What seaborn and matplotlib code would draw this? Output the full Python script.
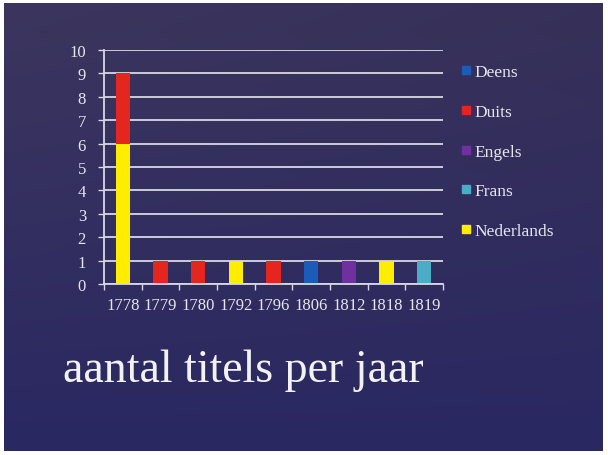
import numpy as np
import pandas as pd
import matplotlib
matplotlib.use("Agg")
import matplotlib.pyplot as plt
import seaborn as sns
from matplotlib.lines import Line2D

# ---- data ----
years = ["1778", "1779", "1780", "1792", "1796", "1806", "1812", "1818", "1819"]
nederlands = [6, 0, 0, 1, 0, 0, 0, 1, 0]
duits = [3, 1, 1, 0, 1, 0, 0, 0, 0]
deens = [0, 0, 0, 0, 0, 1, 0, 0, 0]
engels = [0, 0, 0, 0, 0, 0, 1, 0, 0]
frans = [0, 0, 0, 0, 0, 0, 0, 0, 1]
y_ticks = list(range(0, 11))
legend_labels = ["Deens", "Duits", "Engels", "Frans", "Nederlands"]
title_text = "aantal titels per jaar"

colors = {
    "Deens": "#1a5cb8",
    "Duits": "#e5261e",
    "Engels": "#7030a0",
    "Frans": "#4bacc6",
    "Nederlands": "#ffed00",
}

series = {"Nederlands": nederlands, "Duits": duits, "Deens": deens,
          "Engels": engels, "Frans": frans}

sns.set_theme(style="white")
plt.rcParams["font.family"] = ["Liberation Serif", "DejaVu Serif"]

W, H = 608, 456
fig = plt.figure(figsize=(W / 100, H / 100), dpi=100, facecolor="white")

# background panel with gradient
bg = fig.add_axes([4 / W, 4 / H, 599 / W, 448 / H])
ny, nx = 200, 300
yy, xx = np.mgrid[0:1:ny * 1j, 0:1:nx * 1j]
top = np.array([60, 54, 94]) / 255
bot = np.array([42, 40, 98]) / 255
t = yy[..., None]
img = top * (1 - t) + bot * t
img = img - 0.02 * xx[..., None] * (1 - t)
img = np.clip(img, 0, 1)
bg.imshow(img, aspect="auto", extent=[0, 1, 0, 1], origin="upper")
bg.set_axis_off()

ax = fig.add_axes([104 / W, 1 - 285 / H, (443 - 104) / W, (285 - 51) / H])
ax.set_facecolor("none")

txt_color = "#e6e6ee"
line_color = "#d8d8e4"

bottom = np.zeros(len(years))
for name in ["Nederlands", "Duits", "Deens", "Engels", "Frans"]:
    vals = np.array(series[name], dtype=float)
    df = pd.DataFrame({"year": years, "value": vals})
    sns.barplot(data=df, x="year", y="value", order=years, bottom=bottom,
                color=colors[name], saturation=1, width=0.38, linewidth=0,
                ax=ax, errorbar=None)
    bottom = bottom + vals

ax.set_ylim(0, 10)
ax.set_xlim(-0.5, len(years) - 0.5)
ax.set_yticks(y_ticks)
ax.yaxis.grid(True, color=line_color, linewidth=1.3)
ax.set_axisbelow(True)
ax.set_xlabel("")
ax.set_ylabel("")

for s in ["top", "right"]:
    ax.spines[s].set_visible(False)
for s in ["left", "bottom"]:
    ax.spines[s].set_color(line_color)
    ax.spines[s].set_linewidth(1.3)

ax.tick_params(axis="y", colors=line_color, labelcolor=txt_color, length=4,
               width=1.0, direction="out", pad=9, labelsize=12, left=True)
ax.tick_params(axis="x", which="major", length=0, pad=9, labelcolor=txt_color,
               labelsize=12)
ax.set_xticks(range(len(years)))
ax.set_xticklabels(years)
ax.set_xticks(np.arange(-0.5, len(years), 1.0), minor=True)
ax.tick_params(axis="x", which="minor", length=4, width=1.0, color=line_color,
               direction="out", bottom=True)

handles = [Line2D([0], [0], marker="s", linestyle="none", markersize=6,
                  markerfacecolor=colors[n], markeredgecolor=colors[n])
           for n in legend_labels]
leg = fig.legend(handles, legend_labels, loc="upper left",
                 bbox_to_anchor=(461 / W, 1 - 65 / H), frameon=False,
                 fontsize=12.5, labelspacing=1.36, handlelength=0.6,
                 handletextpad=0.2, borderpad=0, borderaxespad=0,
                 labelcolor=txt_color)

fig.text(63 / W, 1 - 382 / H, title_text, fontsize=33, color="#f2f2f6",
         ha="left", va="baseline")

fig.savefig("out.png", dpi=100, facecolor="white")
